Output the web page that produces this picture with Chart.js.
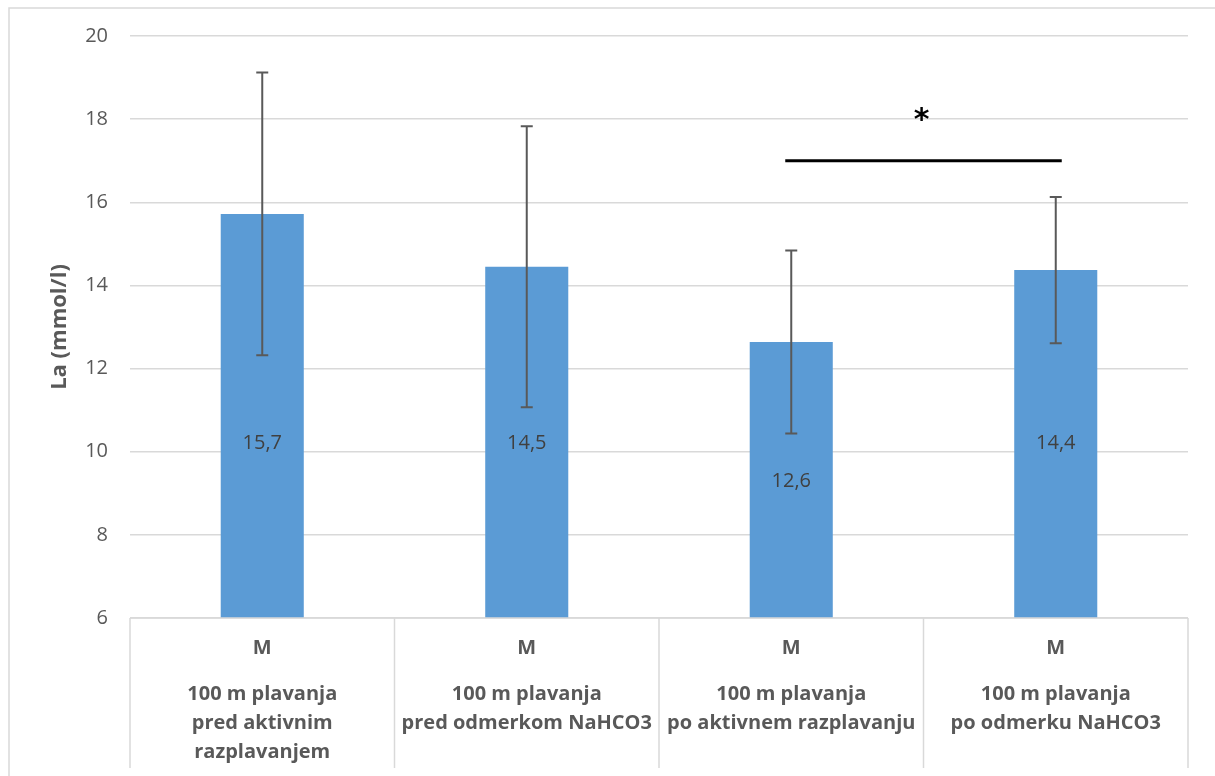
<!DOCTYPE html>
<html>
<head>
<meta charset="utf-8">
<script src="https://cdn.jsdelivr.net/npm/chart.js@4"></script>
<style>
  html, body { margin: 0; padding: 0; background: #fff; }
  #wrap { position: relative; width: 1215px; height: 776px; }
</style>
</head>
<body>
<div id="wrap"><canvas id="laChart" width="1215" height="776"></canvas></div>
<script>
// data
const groups = ['M', 'M', 'M', 'M'];
const categories = [
    ['100 m plavanja', 'pred aktivnim', 'razplavanjem'],
    ['100 m plavanja', 'pred odmerkom NaHCO3'],
    ['100 m plavanja', 'po aktivnem razplavanju'],
    ['100 m plavanja', 'po odmerku NaHCO3']
];
const means = [15.72, 14.45, 12.64, 14.37];
const sds = [3.4, 3.38, 2.2, 1.76];
const valueLabels = ['15,7', '14,5', '12,6', '14,4'];
const labelLevels = [10.2, 10.2, 9.3, 10.2];   // Excel labels were moved by hand
const sigPair = [2, 3];
const sigLevel = 17;
const yTicks = [6, 8, 10, 12, 14, 16, 18, 20];

const grey = '#595959';
const font = '"Open Sans", sans-serif';

const decorPlugin = {
    id: 'decor',
    afterDatasetsDraw(chart) {
        const { ctx, scales: { x, y }, chartArea } = chart;
        ctx.save();

        // error bars
        ctx.strokeStyle = grey;
        ctx.lineWidth = 2;
        means.forEach((m, i) => {
            const px = x.getPixelForValue(i);
            const top = y.getPixelForValue(m + sds[i]);
            const bot = y.getPixelForValue(m - sds[i]);
            ctx.beginPath();
            ctx.moveTo(px, top); ctx.lineTo(px, bot);
            ctx.moveTo(px - 6, top); ctx.lineTo(px + 6, top);
            ctx.moveTo(px - 6, bot); ctx.lineTo(px + 6, bot);
            ctx.stroke();
        });

        // value labels inside bars
        ctx.fillStyle = '#404040';
        ctx.font = '20px ' + font;
        ctx.textAlign = 'center';
        ctx.textBaseline = 'middle';
        valueLabels.forEach((t, i) => {
            ctx.fillText(t, x.getPixelForValue(i), y.getPixelForValue(labelLevels[i]));
        });

        // significance bar and star
        const x1 = x.getPixelForValue(sigPair[0]) - 6;
        const x2 = x.getPixelForValue(sigPair[1]) + 6;
        const sy = y.getPixelForValue(sigLevel);
        ctx.strokeStyle = '#000';
        ctx.lineWidth = 3;
        ctx.beginPath();
        ctx.moveTo(x1, sy); ctx.lineTo(x2, sy);
        ctx.stroke();
        ctx.fillStyle = '#000';
        ctx.font = 'bold 30px "DejaVu Sans", sans-serif';
        ctx.fillText('*', (x1 + x2) / 2 - 2, sy - 40);

        // category table below the plot
        const step = (chartArea.right - chartArea.left) / categories.length;
        ctx.strokeStyle = '#d9d9d9';
        ctx.lineWidth = 1.5;
        ctx.beginPath();
        ctx.moveTo(chartArea.left, chartArea.bottom);
        ctx.lineTo(chartArea.right, chartArea.bottom);
        for (let i = 0; i <= categories.length; i++) {
            const lx = chartArea.left + i * step;
            ctx.moveTo(lx, chartArea.bottom);
            ctx.lineTo(lx, chartArea.bottom + 150);
        }
        ctx.stroke();

        ctx.fillStyle = grey;
        ctx.font = 'bold 20px ' + font;
        categories.forEach((lines, i) => {
            const cx = x.getPixelForValue(i);
            ctx.fillText(groups[i], cx, chartArea.bottom + 30);
            lines.forEach((ln, k) => {
                ctx.fillText(ln, cx, chartArea.bottom + 76 + k * 29);
            });
        });

        // outer frame
        ctx.strokeStyle = '#d9d9d9';
        ctx.lineWidth = 1.5;
        ctx.beginPath();
        ctx.moveTo(9, 776); ctx.lineTo(9, 8); ctx.lineTo(1215, 8);
        ctx.stroke();

        ctx.restore();
    }
};

new Chart(document.getElementById('laChart'), {
    type: 'bar',
    data: {
        labels: categories.map((c, i) => i),
        datasets: [{
            data: means,
            backgroundColor: '#5b9bd5',
            borderWidth: 0,
            categoryPercentage: 1,
            barPercentage: 0.314
        }]
    },
    options: {
        responsive: false,
        animation: false,
        layout: { padding: { left: 9, top: 36, right: 27, bottom: 158 } },
        plugins: {
            legend: { display: false },
            tooltip: { enabled: false }
        },
        scales: {
            x: {
                display: false
            },
            y: {
                min: yTicks[0],
                max: yTicks[yTicks.length - 1],
                afterFit: s => { s.width = 121; },
                afterBuildTicks: s => { s.ticks = yTicks.map(v => ({ value: v })); },
                border: { display: false },
                grid: { color: '#d9d9d9', lineWidth: 1.5, drawTicks: false },
                ticks: {
                    color: grey,
                    padding: 22,
                    font: { family: font, size: 20 }
                },
                title: {
                    display: true,
                    text: 'La (mmol/l)',
                    color: grey,
                    padding: { top: 38, bottom: 0 },
                    font: { family: font, size: 22, weight: 'bold' }
                }
            }
        }
    },
    plugins: [decorPlugin]
});
</script>
</body>
</html>
